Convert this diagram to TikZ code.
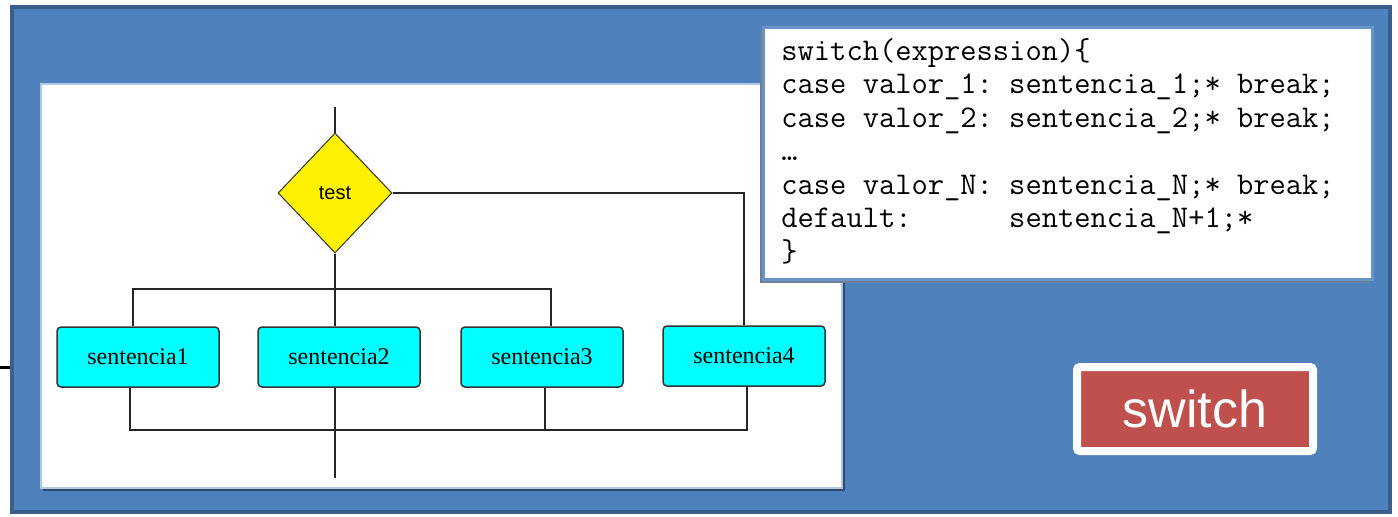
\documentclass[tikz,border=0pt]{standalone}
\usepackage{fontspec}
\usetikzlibrary{positioning, shapes.geometric, calc}
\newfontfamily\stmtfont{Liberation Serif}
\newfontfamily\labelfont{Liberation Sans}
\definecolor{slideblue}{HTML}{4F81BD}
\definecolor{slideedge}{HTML}{3A5F8B}
\definecolor{slideshade}{HTML}{2E4A6E}
\definecolor{btnred}{HTML}{C0504D}
\definecolor{boxcyan}{RGB}{0,255,255}
\tikzset
{%
decision/.style={diamond, draw=black!80, fill=yellow, line width=0.5pt, inner sep=0pt,
	minimum width=57pt, minimum height=60pt, aspect=0.95, font=\labelfont\fontsize{10}{12}\selectfont},
stmt/.style={draw=black!80, fill=boxcyan, line width=0.75pt, rounded corners=2pt,
	minimum width=81pt, minimum height=30pt, font=\stmtfont\fontsize{12}{14}\selectfont},
wire/.style={draw=black!85, line width=0.6pt},
button/.style={draw=white, fill=btnred, line width=4pt, rounded corners=1.5pt,
	minimum width=118pt, minimum height=42pt, text=white, font=\labelfont\fontsize{26}{30}\selectfont}
}
\begin{document}
\begin{tikzpicture}[x=0.5pt, y=-0.5pt]
	\useasboundingbox (0,0) rectangle (1398,516);

	% [BACKGROUND]
	\draw[fill=slideblue, draw=slideedge, line width=2pt] (12,7) rectangle (1390,512);
	\draw[line width=1.5pt] (0,367) -- (10,367);

	% white panel of the flowchart
	\fill[slideshade] (43,86) rectangle (845,491);
	\draw[fill=white, draw=slideblue!45, line width=1pt] (41,84) rectangle (842,488);

	% [FLOWCHART]
	\node[decision] (test) at (335,193) {test};
	\node[stmt] (s1) at (138,357) {sentencia1};
	\node[stmt] (s2) at (339,357) {sentencia2};
	\node[stmt] (s3) at (542,357) {sentencia3};
	\node[stmt] (s4) at (744,356) {sentencia4};

	\coordinate (entry) at (335,107);
	\coordinate (fork) at (335,289);
	\coordinate (join) at (335,430);
	\coordinate (exit) at (335,478);

	\path[wire] (entry) edge (test.north)
	(test.south) edge (fork)
	(fork) edge (fork |- s2.north)
	(join) edge (exit);
	\draw[wire] ([xshift=-2.5pt]s1.north) |- (fork) -| ([xshift=4.5pt]s3.north);
	\draw[wire] (test.east) -| (s4.north);
	\draw[wire] ([xshift=-4pt]s1.south) |- (join) -| ([xshift=1.5pt]s4.south);
	\path[wire] (join |- s2.south) edge (join)
	([xshift=1.5pt]s3.south) edge ([xshift=1.5pt]s3.south |- join);

	% [CODE]
	\fill[slideshade!70] (760,30) rectangle (1370,283);
	\draw[fill=white, draw=slideblue!85, line width=1.5pt] (763,27) rectangle (1372,279);
	\node[anchor=north west, inner sep=0pt, align=left,
		font=\ttfamily\fontsize{15.8}{16.75}\selectfont\frenchspacing] (code) at (781,38)
		{switch(expression)\{\\
		case valor\_1: sentencia\_1;* break;\\
		case valor\_2: sentencia\_2;* break;\\
		…\\
		case valor\_N: sentencia\_N;* break;\\
		default:\ \ \ \ \ \ sentencia\_N+1;*\\
		\}};

	% [BUTTON]
	\node[button] (switch) at (1195,409) {switch};
\end{tikzpicture}
\end{document}
